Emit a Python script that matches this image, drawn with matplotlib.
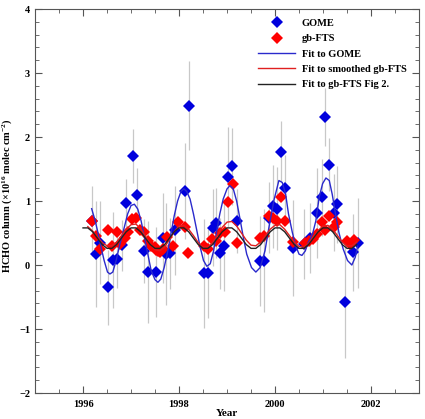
import numpy as np
import matplotlib
matplotlib.use('Agg')
import matplotlib.pyplot as plt
from matplotlib.ticker import MultipleLocator

plt.rcParams['font.family'] = ['Liberation Serif', 'DejaVu Serif']
plt.rcParams['font.weight'] = 'bold'
plt.rcParams['mathtext.fontset'] = 'custom'
plt.rcParams['mathtext.rm'] = 'Liberation Serif:bold'
plt.rcParams['mathtext.it'] = 'Liberation Serif:bold'
plt.rcParams['mathtext.bf'] = 'Liberation Serif:bold'

# ---- GOME monthly columns (year, value, 1-sigma) ----
gome_year = [1996.19, 1996.28, 1996.36, 1996.52, 1996.63, 1996.71, 1996.81, 1996.90,
             1997.05, 1997.13, 1997.28, 1997.36, 1997.53, 1997.66, 1997.73, 1997.82,
             1997.92, 1998.12, 1998.20, 1998.52, 1998.61, 1998.70, 1998.78, 1998.85,
             1998.94, 1999.03, 1999.11, 1999.20, 1999.69, 1999.78, 1999.88, 1999.96,
             2000.04, 2000.12, 2000.20, 2000.37, 2000.60, 2000.72, 2000.88, 2000.97,
             2001.05, 2001.13, 2001.22, 2001.29, 2001.45, 2001.63, 2001.72]
gome_val = [0.69, 0.17, 0.35, -0.35, 0.08, 0.09, 0.31, 0.97,
            1.70, 1.10, 0.22, -0.11, -0.11, 0.42, 0.17, 0.18,
            0.54, 1.16, 2.49, -0.13, -0.13, 0.58, 0.66, 0.18,
            0.30, 1.38, 1.54, 0.68, 0.06, 0.07, 0.74, 0.92,
            0.88, 1.77, 1.20, 0.26, 0.33, 0.42, 0.81, 1.06,
            2.31, 1.57, 0.82, 0.95, -0.58, 0.20, 0.34]
gome_err = [0.55, 0.83, 0.65, 0.58, 0.75, 0.45, 0.40, 0.38,
            0.42, 0.42, 0.50, 0.80, 0.70, 0.70, 0.80, 0.55,
            0.70, 0.75, 0.69, 0.85, 0.70, 0.60, 0.55, 0.55,
            0.70, 0.78, 0.60, 0.50, 0.70, 0.80, 0.55, 0.65,
            0.65, 0.48, 0.52, 0.75, 0.55, 0.55, 0.70, 0.60,
            0.45, 0.42, 0.60, 0.60, 0.87, 0.60, 0.70]

# ---- ground-based FTS columns ----
fts_year = [1996.19, 1996.28, 1996.35, 1996.52, 1996.61, 1996.71, 1996.78, 1996.87,
            1996.94, 1997.03, 1997.11, 1997.18, 1997.28, 1997.35, 1997.42, 1997.49,
            1997.53, 1997.56, 1997.60, 1997.67, 1997.74, 1997.88, 1997.97, 1998.12,
            1998.19, 1998.51, 1998.61, 1998.69, 1998.78, 1998.86, 1998.95, 1999.03,
            1999.12, 1999.20, 1999.68, 1999.78, 1999.88, 1999.96, 2000.04, 2000.12,
            2000.20, 2000.38, 2000.62, 2000.71, 2000.79, 2000.88, 2000.97, 2001.05,
            2001.13, 2001.22, 2001.29, 2001.49, 2001.56, 2001.64]
fts_val = [0.68, 0.46, 0.25, 0.54, 0.30, 0.51, 0.33, 0.42,
           0.51, 0.72, 0.74, 0.55, 0.51, 0.37, 0.30, 0.28,
           0.24, 0.22, 0.20, 0.25, 0.43, 0.30, 0.67, 0.59,
           0.18, 0.29, 0.25, 0.41, 0.38, 0.50, 0.51, 0.98,
           1.27, 0.35, 0.42, 0.46, 0.76, 0.74, 0.69, 1.06,
           0.69, 0.36, 0.35, 0.38, 0.41, 0.48, 0.67, 0.54,
           0.77, 0.59, 0.67, 0.38, 0.33, 0.39]

# ---- fitted curves ----
fit_gome_year = [1996.18, 1996.25, 1996.31, 1996.375, 1996.44, 1996.51, 1996.56, 1996.62,
                 1996.69, 1996.76, 1996.86, 1996.93, 1997.00, 1997.07, 1997.14, 1997.21,
                 1997.28, 1997.35, 1997.42, 1997.50, 1997.56, 1997.62, 1997.69, 1997.76,
                 1997.83, 1997.90, 1997.97, 1998.04, 1998.10, 1998.16, 1998.23, 1998.30,
                 1998.37, 1998.44, 1998.51, 1998.58, 1998.65, 1998.72, 1998.78, 1998.85,
                 1998.92, 1999.00, 1999.06, 1999.13, 1999.20, 1999.27, 1999.34, 1999.41,
                 1999.51, 1999.60, 1999.69, 1999.79, 1999.88, 1999.98, 2000.08, 2000.15,
                 2000.22, 2000.28, 2000.36, 2000.43, 2000.50, 2000.56, 2000.63, 2000.69,
                 2000.78, 2000.85, 2000.92, 2000.99, 2001.06, 2001.13, 2001.19, 2001.26,
                 2001.33, 2001.42, 2001.51, 2001.60, 2001.67, 2001.72]
fit_gome_val = [0.88, 0.70, 0.51, 0.28, 0.07, -0.11, -0.14, -0.11,
                0.07, 0.30, 0.59, 0.80, 0.93, 0.95, 0.875, 0.69,
                0.43, 0.17, -0.09, -0.23, -0.27, -0.22, -0.04, 0.20,
                0.48, 0.77, 1.00, 1.15, 1.19, 1.15, 1.03, 0.80,
                0.54, 0.28, 0.07, -0.02, 0.02, 0.22, 0.51, 0.80,
                1.03, 1.19, 1.24, 1.19, 1.00, 0.72, 0.43, 0.17,
                -0.04, -0.11, -0.04, 0.22, 0.62, 1.02, 1.32, 1.29,
                1.11, 0.80, 0.51, 0.30, 0.17, 0.15, 0.22, 0.35,
                0.48, 0.69, 1.06, 1.27, 1.36, 1.32, 1.11, 0.80,
                0.51, 0.25, 0.07, 0.00, 0.12, 0.29]

fit_fts_year = [1996.1, 1996.2, 1996.3, 1996.4, 1996.5, 1996.6, 1996.7, 1996.8, 1996.9,
                1997.0, 1997.1, 1997.2, 1997.3, 1997.4, 1997.5, 1997.6, 1997.7, 1997.8, 1997.9,
                1998.0, 1998.1, 1998.2, 1998.3, 1998.4, 1998.5, 1998.6, 1998.7, 1998.8, 1998.9,
                1999.0, 1999.1, 1999.2, 1999.3, 1999.4, 1999.5, 1999.6, 1999.7, 1999.8, 1999.9,
                2000.0, 2000.1, 2000.2, 2000.3, 2000.4, 2000.5, 2000.6, 2000.7, 2000.8, 2000.9,
                2001.0, 2001.1, 2001.2, 2001.3, 2001.4, 2001.5, 2001.6, 2001.7]
fit_fts_val = [0.60, 0.53, 0.44, 0.35, 0.30, 0.30, 0.36, 0.46, 0.56,
               0.63, 0.64, 0.57, 0.45, 0.33, 0.24, 0.22, 0.28, 0.40, 0.52,
               0.61, 0.62, 0.56, 0.46, 0.35, 0.28, 0.28, 0.35, 0.47, 0.59,
               0.67, 0.68, 0.61, 0.50, 0.39, 0.31, 0.30, 0.36, 0.46, 0.56,
               0.62, 0.63, 0.56, 0.46, 0.36, 0.29, 0.28, 0.34, 0.44, 0.54,
               0.61, 0.62, 0.56, 0.46, 0.36, 0.30, 0.30, 0.36]

fit_fig2_year = [1996.0, 1996.1, 1996.2, 1996.3, 1996.4, 1996.5, 1996.6, 1996.7, 1996.8, 1996.9,
                 1997.0, 1997.1, 1997.2, 1997.3, 1997.4, 1997.5, 1997.6, 1997.7, 1997.8, 1997.9,
                 1998.0, 1998.1, 1998.2, 1998.3, 1998.4, 1998.5, 1998.6, 1998.7, 1998.8, 1998.9,
                 1999.0, 1999.1, 1999.2, 1999.3, 1999.4, 1999.5, 1999.6, 1999.7, 1999.8, 1999.9,
                 2000.0, 2000.1, 2000.2, 2000.3, 2000.4, 2000.5, 2000.6, 2000.7, 2000.8, 2000.9,
                 2001.0, 2001.1, 2001.2, 2001.3, 2001.4, 2001.5, 2001.6, 2001.7]
fit_fig2_val = [0.58, 0.58, 0.52, 0.42, 0.32, 0.26, 0.26, 0.32, 0.42, 0.52,
                0.58, 0.58, 0.52, 0.42, 0.32, 0.26, 0.26, 0.32, 0.42, 0.52,
                0.58, 0.58, 0.52, 0.42, 0.32, 0.26, 0.26, 0.32, 0.42, 0.52,
                0.58, 0.58, 0.52, 0.42, 0.32, 0.26, 0.26, 0.32, 0.42, 0.52,
                0.58, 0.58, 0.52, 0.42, 0.32, 0.26, 0.26, 0.32, 0.42, 0.52,
                0.58, 0.58, 0.52, 0.42, 0.32, 0.26, 0.26, 0.32]

fig = plt.figure(figsize=(4.25, 4.19), dpi=100)
ax = fig.add_axes([0.0824, 0.062, 0.9036, 0.9165])

ax.errorbar(gome_year, gome_val, yerr=gome_err, fmt='none', ecolor='#c8c8c8',
            elinewidth=0.9, capsize=0, zorder=1)
ax.plot(gome_year, gome_val, 'D', color='#0000dd', markersize=6.5, markeredgewidth=0,
        label='GOME', zorder=3)
ax.plot(fts_year, fts_val, 'D', color='#ff0000', markersize=6.5, markeredgewidth=0,
        label='gb-FTS', zorder=3)
ax.plot(fit_gome_year, fit_gome_val, color='#2a2acc', lw=1.0, label='Fit to GOME', zorder=4)
ax.plot(fit_fts_year, fit_fts_val, color='#e02020', lw=1.0, label='Fit to smoothed gb-FTS', zorder=4)
ax.plot(fit_fig2_year, fit_fig2_val, color='#222222', lw=1.0, label='Fit to gb-FTS Fig 2.', zorder=4)

ax.set_xlim(1995, 2003)
ax.set_ylim(-2, 4)
ax.xaxis.set_major_locator(MultipleLocator(2))
ax.xaxis.set_minor_locator(MultipleLocator(0.5))
ax.yaxis.set_major_locator(MultipleLocator(1))
ax.yaxis.set_minor_locator(MultipleLocator(0.2))
ax.tick_params(which='both', direction='in', top=True, right=True, labelsize=7.5,
               color='#555555')
ax.tick_params(axis='x', which='major', pad=5)
ax.tick_params(which='major', length=5, width=0.8)
ax.tick_params(which='minor', length=3, width=0.6)
for sp in ax.spines.values():
    sp.set_color('#555555')
    sp.set_linewidth(0.8)

ax.set_xlabel('Year', fontsize=8, fontweight='bold')
ax.xaxis.set_label_coords(0.5, -0.042)
ax.set_ylabel('HCHO column (×10$^{16}$ molec cm$^{-2}$)', fontsize=7.5, fontweight='bold')
ax.yaxis.set_label_coords(-0.055, 0.515)

ax.legend(loc='upper left', bbox_to_anchor=(0.58, 0.975), frameon=False, fontsize=7.5,
          handlelength=3.6, handletextpad=0.6, labelspacing=0.58, borderpad=0,
          borderaxespad=0, numpoints=1)

fig.savefig('out.png', dpi=100)
